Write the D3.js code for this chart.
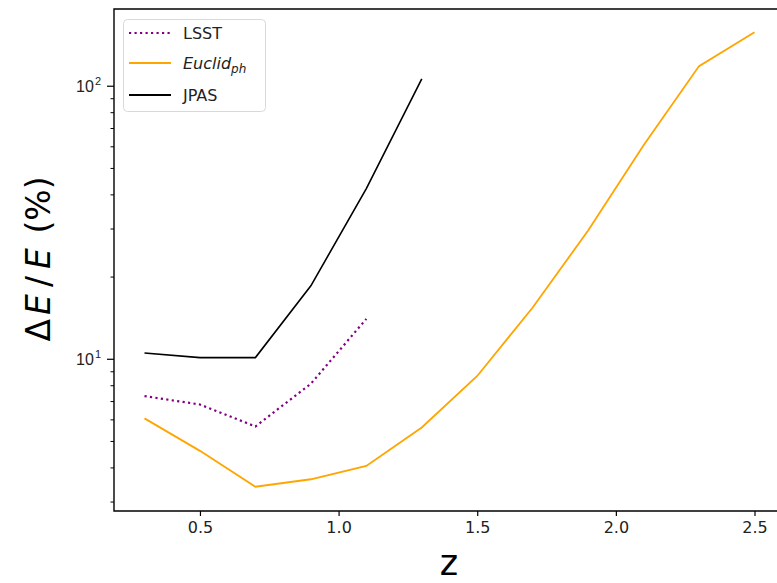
<!DOCTYPE html>
<html>
<head>
<meta charset="utf-8">
<script src="https://cdn.jsdelivr.net/npm/d3@7"></script>
<style>
  html, body { margin: 0; padding: 0; background: #fff; }
  svg { display: block; font-family: "DejaVu Sans", sans-serif; }
</style>
</head>
<body>
<svg id="chart" width="777" height="583"></svg>
<script>
// ---- data ----
const zLSST   = [0.3, 0.5, 0.7, 0.9, 1.1];
const errLSST = [7.3, 6.8, 5.65, 8.1, 14.0];

const zEuclid   = [0.3, 0.5, 0.7, 0.9, 1.1, 1.3, 1.5, 1.7, 1.9, 2.1, 2.3, 2.5];
const errEuclid = [6.05, 4.6, 3.4, 3.62, 4.05, 5.6, 8.65, 15.4, 29.5, 60.5, 118, 157];

const zJPAS   = [0.3, 0.5, 0.7, 0.9, 1.1, 1.3];
const errJPAS = [10.5, 10.1, 10.1, 18.5, 42, 106];

const xTicks = [0.5, 1.0, 1.5, 2.0, 2.5];
const xTickLabels = ["0.5", "1.0", "1.5", "2.0", "2.5"];
const yMajorTicks = [10, 100];
const yMinorTicks = [3, 4, 5, 6, 7, 8, 9, 20, 30, 40, 50, 60, 70, 80, 90];

const seriesNames = ["LSST", "Euclid", "JPAS"];

// ---- layout ----
const svg = d3.select("#chart");
const pL = 114, pR = 785, pT = 9, pB = 511;

const x = d3.scaleLinear().domain([0.19, 2.61]).range([pL, pR]);
const y = d3.scaleLog().domain([2.77, 191]).range([pB, pT]);

svg.append("defs").append("clipPath").attr("id", "plotclip")
  .append("rect").attr("x", pL).attr("y", pT).attr("width", pR - pL).attr("height", pB - pT);

const line = d3.line().x(d => x(d[0])).y(d => y(d[1]));
const g = svg.append("g").attr("clip-path", "url(#plotclip)");

g.append("path")
  .datum(zLSST.map((z, i) => [z, errLSST[i]]))
  .attr("d", line).attr("fill", "none")
  .attr("stroke", "#800080").attr("stroke-width", 2.2)
  .attr("stroke-dasharray", "2.2,3.3");

g.append("path")
  .datum(zEuclid.map((z, i) => [z, errEuclid[i]]))
  .attr("d", line).attr("fill", "none")
  .attr("stroke", "#ffa500").attr("stroke-width", 1.8);

g.append("path")
  .datum(zJPAS.map((z, i) => [z, errJPAS[i]]))
  .attr("d", line).attr("fill", "none")
  .attr("stroke", "#000").attr("stroke-width", 1.6);

// ---- axes ----
const xAxis = d3.axisBottom(x).tickValues(xTicks)
  .tickFormat((d, i) => xTickLabels[i]).tickSize(5).tickPadding(6);
const gx = svg.append("g").attr("transform", `translate(0,${pB})`).call(xAxis);
gx.select(".domain").remove();
gx.selectAll("line").attr("stroke", "#000").attr("stroke-width", 1.2);
gx.selectAll("text").attr("font-size", 16).attr("fill", "#222")
  .attr("font-family", "DejaVu Sans");

const yAxis = d3.axisLeft(y).tickValues(yMajorTicks).tickFormat("").tickSize(7);
const gy = svg.append("g").attr("transform", `translate(${pL},0)`).call(yAxis);
gy.select(".domain").remove();
gy.selectAll("line").attr("stroke", "#000").attr("stroke-width", 1.2);
gy.selectAll(".tick text").remove();
gy.selectAll(".tick").append("text")
  .attr("x", -13).attr("dy", "0.35em").attr("text-anchor", "end")
  .attr("font-size", 16).attr("fill", "#222")
  .each(function(d) {
    const t = d3.select(this);
    t.append("tspan").text("10");
    t.append("tspan").attr("font-size", 11).attr("dx", 1).attr("dy", "-0.65em").text(Math.round(Math.log10(d)));
  });

const yMinor = d3.axisLeft(y).tickValues(yMinorTicks).tickFormat("").tickSize(3.5);
const gym = svg.append("g").attr("transform", `translate(${pL},0)`).call(yMinor);
gym.select(".domain").remove();
gym.selectAll("line").attr("stroke", "#000").attr("stroke-width", 1);

// spines
svg.append("path")
  .attr("d", `M${pL},${pT}H${pR}V${pB}H${pL}Z`)
  .attr("fill", "none").attr("stroke", "#000").attr("stroke-width", 1.4);

// ---- labels ----
svg.append("text")
  .attr("x", 449).attr("y", 575).attr("text-anchor", "middle")
  .attr("font-size", 35).attr("fill", "#000").text("z");

const yl = svg.append("text")
  .attr("transform", `translate(50,259) rotate(-90)`)
  .attr("text-anchor", "middle").attr("font-size", 33).attr("fill", "#000");
yl.append("tspan").text("Δ");
yl.append("tspan").attr("font-style", "italic").attr("dx", 4).text("E");
yl.append("tspan").attr("dx", 7).text("/");
yl.append("tspan").attr("font-style", "italic").attr("dx", 7).text("E");
yl.append("tspan").attr("dx", 4).text(" (%)");

// ---- legend ----
const leg = svg.append("g");
leg.append("rect").attr("x", 123.5).attr("y", 19.5).attr("width", 142).attr("height", 92)
  .attr("rx", 4).attr("fill", "#fff").attr("fill-opacity", 0.8)
  .attr("stroke", "#d9d9d9").attr("stroke-width", 1);

const legY = [33, 63, 95];
const legStyles = [
  { stroke: "#800080", dash: "2.2,3.3", w: 2.2 },
  { stroke: "#ffa500", dash: null, w: 2 },
  { stroke: "#000", dash: null, w: 2 }
];
seriesNames.forEach((name, i) => {
  leg.append("line").attr("x1", 129).attr("x2", 171).attr("y1", legY[i]).attr("y2", legY[i])
    .attr("stroke", legStyles[i].stroke).attr("stroke-width", legStyles[i].w)
    .attr("stroke-dasharray", legStyles[i].dash);
  const t = leg.append("text").attr("x", 183).attr("y", legY[i]).attr("dy", "0.36em")
    .attr("font-size", 16).attr("fill", "#222");
  if (name === "Euclid") {
    t.append("tspan").attr("font-style", "italic").text("Euclid");
    t.append("tspan").attr("font-style", "italic").attr("font-size", 12).attr("dy", "0.35em").text("ph");
  } else {
    t.text(name);
  }
});
</script>
</body>
</html>
